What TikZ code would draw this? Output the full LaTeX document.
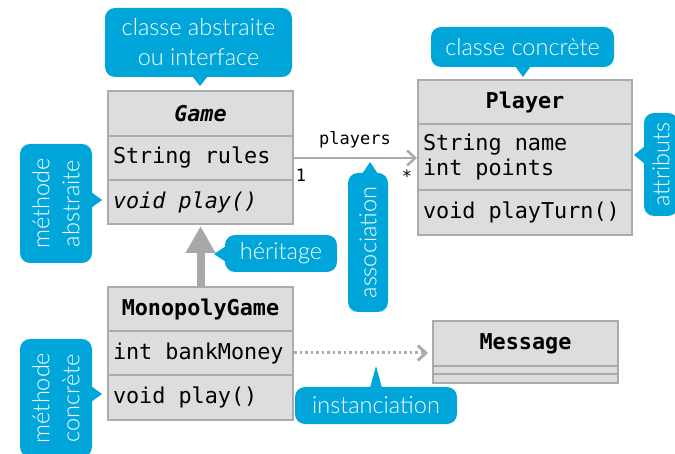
\documentclass[tikz,border=0pt]{standalone}
\usepackage{fontspec}
\setmonofont{DejaVu Sans Mono}
\IfFontExistsTF{Lato Light}{\newfontfamily\callfont{Lato Light}}{\newfontfamily\callfont{Lato}}
\newcommand\umlfont{\ttfamily\fontsize{21.8}{25.5}\selectfont}
\newcommand\tsp{\kern0.602em\relax}
\usetikzlibrary{arrows.meta,calc}
\definecolor{callblue}{HTML}{00A5D9}
\definecolor{boxfill}{HTML}{DCDDDF}
\definecolor{boxline}{HTML}{ABABAB}
\definecolor{arrowgray}{HTML}{ABABAB}
\definecolor{inhgray}{HTML}{A7A9A9}
\tikzset{
  sect/.style={draw=boxline, line width=2pt, fill=boxfill, inner xsep=5pt, inner ysep=0pt,
    font=\umlfont, anchor=north west},
  hdr/.style={sect, text width=#1, align=center},
  body/.style={sect, text width=#1, align=left},
  callout/.style={fill=callblue, rounded corners=10pt, text=white, inner sep=0pt,
    font=\callfont\fontsize{23.5}{30}\selectfont, align=center},
  ptr/.style={fill=callblue},
  assoc/.style={draw=arrowgray, line width=2.5pt, -{Straight Barb[length=8pt,width=15pt]}},
  dep/.style={draw=arrowgray, line width=3pt, dash pattern=on 2.5pt off 3pt, -{Straight Barb[length=8pt,width=15pt]}},
  inh/.style={draw=inhgray, line width=8pt, -{Triangle[length=27pt,width=28pt]}},
  lbl/.style={font=\ttfamily\fontsize{17}{20}\selectfont, inner sep=0pt}
}
\begin{document}
\begin{tikzpicture}[x=1pt,y=-1pt]
\useasboundingbox (0,0) rectangle (675,454);
% Game
\node[hdr=175pt, minimum height=45pt] (gameH) at (107,90) {\textbf{\textit{Game}}};
\node[body=175pt, minimum height=44pt] (gameA) at (107,135) {String\tsp rules};
\node[body=175pt, minimum height=44pt] (gameM) at (107,179) {\textit{void\tsp play()}};
% Player
\node[hdr=204pt, minimum height=44pt] (playerH) at (417,79) {\textbf{Player}};
\node[body=204pt, minimum height=66pt] (playerA) at (417,123) {String\tsp name\\int\tsp points};
\node[body=204pt, minimum height=45pt] (playerM) at (417,189) {void\tsp playTurn()};
% MonopolyGame
\node[hdr=175pt, minimum height=44pt] (monoH) at (107,286) {\textbf{MonopolyGame}};
\node[body=175pt, minimum height=44pt] (monoA) at (107,330) {int\tsp bankMoney};
\node[body=175pt, minimum height=45pt] (monoM) at (107,374) {void\tsp play()};
% Message
\node[hdr=175pt, minimum height=45pt] (msgH) at (432,320) {\textbf{Message}};
\node[sect, minimum width=185pt, minimum height=8pt] (msgA) at (432,365) {};
\node[sect, minimum width=185pt, minimum height=9pt] (msgM) at (432,373) {};
% connectors
\draw[assoc] (gameA.east) -- (gameA.east -| playerA.west);
\node[lbl] (plab) at (355,140) {players};
\node[lbl] (one) at (301,175) {1};
\node[lbl] (many) at (407,176) {*};
\draw[inh, shorten >=1pt] (monoH.north) -- (gameM.south);
\draw[dep, shorten >=4pt] (monoA.east) -- (monoA.east -| msgH.west);
% callouts
\node[callout, minimum width=187pt, minimum height=69pt] (cabs) at (198.5,42.5) {classe abstraite\\ou interface};
\fill[ptr] (192,76) -- (200,86) -- (208,76) -- cycle;
\node[callout, minimum width=183pt, minimum height=40pt] (cconc) at (522.5,47) {classe concrète};
\fill[ptr] (515,66) -- (523,77) -- (531,66) -- cycle;
\node[callout, rotate=90, minimum width=103pt, minimum height=34pt] (cattr) at (661,164.5) {attributs};
\fill[ptr] (645,146) -- (634,155) -- (645,164) -- cycle;
\node[callout, rotate=90, minimum width=119pt, minimum height=72pt] (cmabs) at (56,203.5) {méthode\\abstraite};
\fill[ptr] (91,192) -- (102,200) -- (91,208) -- cycle;
\node[callout, rotate=90, minimum width=139pt, minimum height=40pt] (cassoc) at (368,242.5) {association};
\fill[ptr] (362,174) -- (370,162) -- (378,174) -- cycle;
\node[callout, minimum width=112pt, minimum height=37pt] (cher) at (281,253.5) {héritage};
\fill[ptr] (226,246) -- (214,254) -- (226,262) -- cycle;
\node[callout, rotate=90, minimum width=118pt, minimum height=72pt] (cmconc) at (56,398) {méthode\\concrète};
\fill[ptr] (91,386) -- (102,394) -- (91,402) -- cycle;
\node[callout, minimum width=162pt, minimum height=37pt] (cinst) at (376,405.5) {instanciation};
\fill[ptr] (370,388) -- (376,366) -- (382,388) -- cycle;
\end{tikzpicture}
\end{document}
